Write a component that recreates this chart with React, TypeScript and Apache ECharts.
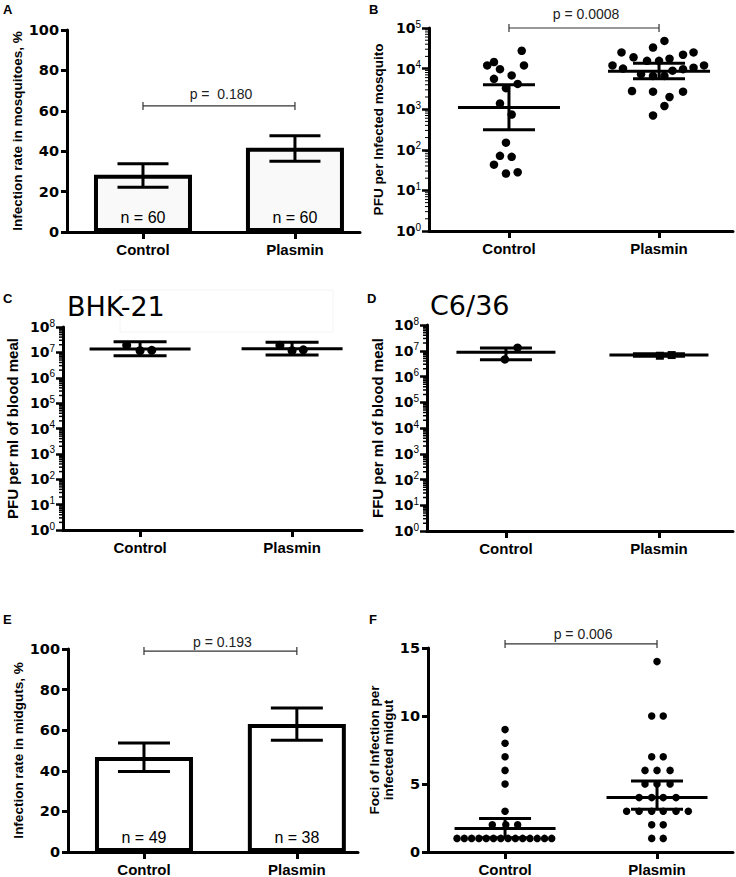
import React, { useEffect, useRef } from 'react';
import * as echarts from 'echarts';

const FONT = '"Liberation Sans", Arial, sans-serif';
const NUMFONT = '"DejaVu Sans", sans-serif';

const categories = ['Control', 'Plasmin'];
const catPos = categories.map((_, i) => i + 1);

// Panel A – infection rate in mosquitoes (%)
const mosqRate = [28.3, 41.7];
const mosqRateLow = [22.1, 35.0];
const mosqRateHigh = [33.8, 47.7];
const mosqN = ['n = 60', 'n = 60'];
const mosqP = 'p =  0.180';
const mosqPLevel = 62.4;

// Panel B – PFU per infected mosquito
const pfuControl = [
  [1.085, 27500], [0.855, 12000], [0.9, 14500], [0.94, 9700], [1.1, 12000],
  [1.018, 6800], [0.9, 5600], [1.058, 4200], [0.98, 3300], [0.94, 1380],
  [1.018, 740], [0.98, 150], [0.94, 71], [1.018, 67], [0.9, 43], [0.98, 26], [1.058, 28],
];
const pfuPlasmin = [
  [2.036, 48000], [1.75, 25000], [1.96, 33000], [2.23, 25000], [2.16, 22000],
  [1.83, 19000], [2.07, 17500], [1.92, 15500], [2.0, 15500], [1.69, 12000],
  [2.3, 12000], [1.76, 10000], [2.23, 10500], [2.16, 9700], [1.88, 7300],
  [1.96, 6600], [2.036, 6600], [2.09, 8900], [1.82, 2800], [1.96, 2700],
  [2.16, 2700], [2.07, 2000], [2.036, 1200], [1.96, 700],
];
const pfuMean = [1100, 8650];
const pfuLow = [310, 5600];
const pfuHigh = [4000, 13600];
const pfuP = 'p = 0.0008';
const pfuPLevel = 100000;

// Panel C – BHK-21
const bhkControl = [[0.912, 19000000], [1.0, 11700000], [1.077, 12000000]];
const bhkPlasmin = [[1.92, 19000000], [2.0, 11700000], [2.074, 12600000]];
const bhkMean = [13500000, 14000000];
const bhkLow = [7400000, 7800000];
const bhkHigh = [26000000, 25000000];

// Panel D – C6/36
const c636Control = [[1.076, 13200000], [0.993, 4600000]];
const c636Plasmin = [[2.006, 6400000], [2.083, 6800000]];
const c636Mean = [8700000, 6800000];
const c636Low = [4500000, 6100000];
const c636High = [12900000, 7700000];

// Panel E – infection rate in midguts (%)
const midgutRate = [46.8, 63.1];
const midgutLow = [39.6, 55.0];
const midgutHigh = [53.7, 70.9];
const midgutN = ['n = 49', 'n = 38'];
const midgutP = 'p = 0.193';
const midgutPLevel = 99;

// Panel F – foci of infection per infected midgut
const fociControl = [
  [0.684, 1], [0.732, 1], [0.78, 1], [0.828, 1], [0.876, 1], [0.924, 1], [0.972, 1],
  [1.02, 1], [1.068, 1], [1.116, 1], [1.164, 1], [1.212, 1], [1.26, 1], [1.307, 1],
  [0.916, 2], [1.005, 2], [1.083, 2],
  [1.0, 3], [1.0, 5], [1.0, 6], [1.0, 7], [1.0, 8], [1.0, 9],
];
const fociPlasmin = [
  [2.0, 14],
  [1.965, 10], [2.041, 10],
  [1.965, 7], [2.041, 7],
  [1.921, 6], [2.0, 6], [2.086, 6],
  [1.921, 5], [2.0, 5], [2.086, 5],
  [1.882, 4], [1.965, 4], [2.041, 4], [2.125, 4],
  [1.8, 3], [1.882, 3], [1.965, 3], [2.041, 3], [2.125, 3], [2.206, 3],
  [1.965, 2], [2.041, 2],
  [1.965, 1], [2.041, 1],
];
const fociMean = [1.72, 4.0];
const fociLow = [1.05, 3.14];
const fociHigh = [2.46, 5.22];
const fociP = 'p = 0.006';
const fociPLevel = 15.3;

const panelLetters = ['A', 'B', 'C', 'D', 'E', 'F'];
const cellTitles = ['BHK-21', 'C6/36'];

const yTitles = [
  'Infection rate in mosquitoes, %',
  'PFU per Infected mosquito',
  'PFU per ml of blood meal',
  'FFU per ml of blood meal',
  'Infection rate in midguts, %',
  'Foci of Infection per\ninfected midgut',
];

function xAxis(gi: number, min: number, max: number) {
  return {
    type: 'value',
    gridIndex: gi,
    min,
    max,
    axisLine: { show: true, onZero: false, lineStyle: { color: '#000', width: 3 } },
    axisTick: { show: true, customValues: catPos, length: 7, lineStyle: { color: '#000', width: 3 } },
    axisLabel: {
      show: true,
      customValues: catPos,
      formatter: (v: number) => categories[Math.round(v) - 1] ?? '',
      margin: 10,
      fontFamily: FONT,
      fontWeight: 'bold',
      fontSize: 15,
      color: '#000',
    },
    splitLine: { show: false },
  };
}

function linYAxis(gi: number, max: number, interval: number, name: string, gap: number) {
  return {
    type: 'value',
    gridIndex: gi,
    min: 0,
    max,
    interval,
    name,
    nameLocation: 'middle',
    nameGap: gap,
    nameTextStyle: { fontFamily: FONT, fontWeight: 'bold', fontSize: 13.5, color: '#000', lineHeight: 14 },
    axisLine: { show: true, onZero: false, lineStyle: { color: '#000', width: 3 } },
    axisTick: { show: true, length: 6, lineStyle: { color: '#000', width: 3 } },
    axisLabel: { margin: 8, fontFamily: NUMFONT, fontWeight: 'bold', fontSize: 14.5, color: '#000' },
    splitLine: { show: false },
  };
}

function logYAxis(gi: number, max: number, name: string, gap: number, nameSize: number) {
  return {
    type: 'log',
    logBase: 10,
    gridIndex: gi,
    min: 1,
    max,
    name,
    nameLocation: 'middle',
    nameGap: gap,
    nameTextStyle: { fontFamily: FONT, fontWeight: 'bold', fontSize: nameSize, color: '#000' },
    axisLine: { show: true, onZero: false, lineStyle: { color: '#000', width: 3 } },
    axisTick: { show: true, length: 7, lineStyle: { color: '#000', width: 2.5 } },
    axisLabel: {
      margin: 8,
      formatter: (v: number) => `{b|10}{s|${Math.round(Math.log10(v))}}`,
      rich: {
        b: { fontFamily: NUMFONT, fontWeight: 'bold', fontSize: 14, color: '#000' },
        s: { fontFamily: FONT, fontSize: 10, color: '#000', padding: [0, 0, 8, 0] },
      },
    },
    splitLine: { show: false },
  };
}

function minorTicks(gi: number, xmin: number, decades: number, len: number, width: number) {
  const vals: number[][] = [];
  for (let d = 0; d < decades; d++) {
    for (let k = 2; k <= 9; k++) vals.push([xmin, k * Math.pow(10, d)]);
  }
  return {
    type: 'custom',
    xAxisIndex: gi,
    yAxisIndex: gi,
    silent: true,
    data: vals,
    renderItem: (_p: any, api: any) => {
      const c = api.coord([api.value(0), api.value(1)]);
      return {
        type: 'line',
        shape: { x1: c[0] - len, y1: c[1], x2: c[0], y2: c[1] },
        style: { stroke: '#000', lineWidth: width },
      };
    },
  };
}

function errSeries(gi: number, means: number[] | null, lows: number[], highs: number[], meanHalf: number, capHalf: number) {
  return {
    type: 'custom',
    xAxisIndex: gi,
    yAxisIndex: gi,
    z: 5,
    silent: true,
    data: catPos.map((x, i) => [x, means ? means[i] : lows[i], lows[i], highs[i]]),
    renderItem: (_p: any, api: any) => {
      const x = api.value(0);
      const m = api.coord([x, api.value(1)]);
      const lo = api.coord([x, api.value(2)]);
      const hi = api.coord([x, api.value(3)]);
      const st = { stroke: '#000', lineWidth: 3 };
      const children: any[] = [];
      if (meanHalf > 0) {
        children.push({ type: 'line', shape: { x1: m[0] - meanHalf, y1: m[1], x2: m[0] + meanHalf, y2: m[1] }, style: st });
      }
      children.push({ type: 'line', shape: { x1: lo[0], y1: lo[1], x2: hi[0], y2: hi[1] }, style: st });
      children.push({ type: 'line', shape: { x1: lo[0] - capHalf, y1: lo[1], x2: lo[0] + capHalf, y2: lo[1] }, style: st });
      children.push({ type: 'line', shape: { x1: hi[0] - capHalf, y1: hi[1], x2: hi[0] + capHalf, y2: hi[1] }, style: st });
      return { type: 'group', children };
    },
  };
}

function bracket(gi: number, level: number, text: string, textGap: number) {
  return {
    type: 'custom',
    xAxisIndex: gi,
    yAxisIndex: gi,
    clip: false,
    silent: true,
    z: 6,
    data: [[catPos[0], catPos[1], level]],
    renderItem: (_p: any, api: any) => {
      const a = api.coord([api.value(0), api.value(2)]);
      const b = api.coord([api.value(1), api.value(2)]);
      const st = { stroke: '#333', lineWidth: 1.2 };
      return {
        type: 'group',
        children: [
          { type: 'line', shape: { x1: a[0], y1: a[1], x2: b[0], y2: b[1] }, style: st },
          { type: 'line', shape: { x1: a[0], y1: a[1] - 4, x2: a[0], y2: a[1] + 4 }, style: st },
          { type: 'line', shape: { x1: b[0], y1: b[1] - 4, x2: b[0], y2: b[1] + 4 }, style: st },
          {
            type: 'text',
            style: {
              text,
              x: (a[0] + b[0]) / 2 + 2,
              y: a[1] - textGap,
              align: 'center',
              verticalAlign: 'bottom',
              font: `14px ${FONT}`,
              fill: '#222',
            },
          },
        ],
      };
    },
  };
}

function barSeries(gi: number, vals: number[], nLabels: string[], fill: string) {
  return {
    type: 'bar',
    xAxisIndex: gi,
    yAxisIndex: gi,
    data: catPos.map((x, i) => [x, vals[i]]),
    barWidth: 98,
    itemStyle: { color: fill, borderColor: '#000', borderWidth: 4 },
    label: {
      show: true,
      position: 'insideBottom',
      distance: 7,
      formatter: (p: any) => nLabels[p.dataIndex],
      fontFamily: FONT,
      fontSize: 16,
      color: '#000',
    },
  };
}

function scatter(gi: number, pts: number[][], size: number, symbol = 'circle') {
  return {
    type: 'scatter',
    xAxisIndex: gi,
    yAxisIndex: gi,
    data: pts,
    symbol,
    symbolSize: size,
    itemStyle: { color: '#000', opacity: 1 },
    z: 4,
  };
}

function letter(t: string, x: number, y: number) {
  return {
    type: 'text',
    x,
    y,
    style: { text: t, font: `bold 13px ${FONT}`, fill: '#000', align: 'left', verticalAlign: 'middle' },
  };
}

export default function App() {
  const ref = useRef<HTMLDivElement>(null);
  useEffect(() => {
    if (!ref.current) return;
    const chart = echarts.init(ref.current, null, { renderer: 'svg' });
    const option: any = {
      animation: false,
      backgroundColor: '#fff',
      grid: [
        { left: 67, top: 30, width: 293, height: 202 },
        { left: 429, top: 28, width: 304, height: 203 },
        { left: 63, top: 327, width: 299, height: 203 },
        { left: 427, top: 325, width: 306, height: 206 },
        { left: 68, top: 649, width: 290, height: 204 },
        { left: 428, top: 648, width: 305, height: 204 },
      ],
      xAxis: [
        xAxis(0, 0.5, 2.428),
        xAxis(1, 0.467, 2.493),
        xAxis(2, 0.493, 2.46),
        xAxis(3, 0.484, 2.484),
        xAxis(4, 0.503, 2.4),
        xAxis(5, 0.493, 2.5),
      ],
      yAxis: [
        linYAxis(0, 100, 20, yTitles[0], 40),
        logYAxis(1, 100000, yTitles[1], 44, 13.5),
        logYAxis(2, 100000000, yTitles[2], 43, 15),
        logYAxis(3, 100000000, yTitles[3], 42, 15),
        linYAxis(4, 100, 20, yTitles[4], 41),
        linYAxis(5, 15, 5, yTitles[5], 20),
      ],
      series: [
        barSeries(0, mosqRate, mosqN, '#f9f9f9'),
        errSeries(0, null, mosqRateLow, mosqRateHigh, 0, 25.5),
        bracket(0, mosqPLevel, mosqP, 5),

        minorTicks(1, 0.467, 5, 4, 1),
        scatter(1, pfuControl, 8.5),
        scatter(1, pfuPlasmin, 8.5),
        errSeries(1, pfuMean, pfuLow, pfuHigh, 51, 26),
        bracket(1, pfuPLevel, pfuP, 7),

        minorTicks(2, 0.493, 8, 4, 1.5),
        scatter(2, bhkControl, 9),
        scatter(2, bhkPlasmin, 9),
        errSeries(2, bhkMean, bhkLow, bhkHigh, 50.5, 26.5),

        minorTicks(3, 0.484, 8, 4, 1.5),
        scatter(3, c636Control, 8.5),
        scatter(3, c636Plasmin, 8, 'rect'),
        errSeries(3, c636Mean, c636Low, c636High, 49.5, 26),

        barSeries(4, midgutRate, midgutN, '#ffffff'),
        errSeries(4, null, midgutLow, midgutHigh, 0, 26),
        bracket(4, midgutPLevel, midgutP, 2.5),

        scatter(5, fociControl, 7.5),
        scatter(5, fociPlasmin, 7.5),
        errSeries(5, fociMean, fociLow, fociHigh, 50.5, 26),
        bracket(5, fociPLevel, fociP, 2.5),
      ],
      graphic: [
        { type: 'rect', shape: { x: 120, y: 290, width: 213, height: 42 }, style: { fill: 'none', stroke: '#f4f4f4', lineWidth: 1 }, z: -1 },
        letter(panelLetters[0], 3, 9),
        letter(panelLetters[1], 369, 9),
        letter(panelLetters[2], 3, 298),
        letter(panelLetters[3], 367, 298),
        letter(panelLetters[4], 3, 619),
        letter(panelLetters[5], 369, 619),
        {
          type: 'text',
          x: 67,
          y: 306,
          style: { text: cellTitles[0], font: `27px ${NUMFONT}`, fill: '#000', align: 'left', verticalAlign: 'middle' },
        },
        {
          type: 'text',
          x: 430,
          y: 305,
          style: { text: cellTitles[1], font: `27px ${NUMFONT}`, fill: '#000', align: 'left', verticalAlign: 'middle' },
        },
      ],
    };
    chart.setOption(option);
    return () => chart.dispose();
  }, []);
  return <div ref={ref} style={{ position: 'fixed', left: 0, top: 0, width: 736, height: 877 }} />;
}
